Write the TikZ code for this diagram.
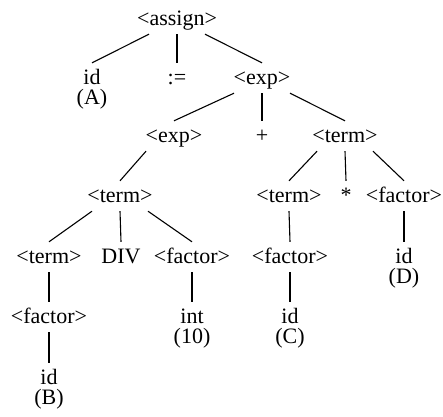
\documentclass[tikz,border=0pt]{standalone}
\usepackage{fontspec}
\setmainfont{Liberation Serif}
\begin{document}
\begin{tikzpicture}[x=1pt,y=-1pt,
    nt/.style={inner xsep=0pt,inner ysep=4pt,text height=17pt,text depth=5pt,anchor=base,font=\fontsize{22}{24}\selectfont},
    lbl/.style={inner sep=0pt,text height=14pt,text depth=5pt,font=\fontsize{22}{24}\selectfont},
    ramo/.style={line width=1.1pt}]
    \useasboundingbox (0,0) rectangle (443,416);

    %radice
    \node (assign) at (177,25)[nt]{<assign>};
    %livello 1
    \node (idA) at (92,84)[nt,label={[lbl,label distance=-3pt]below:(A)}]{id};
    \node (assegna) at (177,84)[nt]{:=};
    \node (exp1) at (262,84)[nt]{<exp>};
    %livello 2
    \node (exp2) at (174,142)[nt]{<exp>};
    \node (piu) at (262,142)[nt]{+};
    \node (term1) at (345,142)[nt]{<term>};
    %livello 3
    \node (term2) at (120,202)[nt]{<term>};
    \node (term3) at (289,202)[nt]{<term>};
    \node (per) at (346,202)[nt]{*};
    \node (factor1) at (404,202)[nt]{<factor>};
    %livello 4
    \node (term4) at (49,263)[nt]{<term>};
    \node (div) at (121,263)[nt]{DIV};
    \node (factor2) at (192,263)[nt]{<factor>};
    \node (factor3) at (290,263)[nt]{<factor>};
    \node (idD) at (404,263)[nt,label={[lbl,label distance=-3pt]below:(D)}]{id};
    %livello 5
    \node (factor4) at (49,323)[nt]{<factor>};
    \node (int) at (192,323)[nt,label={[lbl,label distance=-3pt]below:(10)}]{int};
    \node (idC) at (290,323)[nt,label={[lbl,label distance=-3pt]below:(C)}]{id};
    %livello 6
    \node (idB) at (49,384)[nt,label={[lbl,label distance=-3pt]below:(B)}]{id};

    %rami
    \draw[ramo] ([xshift=-28pt]assign.south) -- (idA.north);
    \draw[ramo] (assign.south) -- (assegna.north);
    \draw[ramo] ([xshift=28pt]assign.south) -- (exp1.north);
    \draw[ramo] ([xshift=-28pt]exp1.south) -- (exp2.north);
    \draw[ramo] (exp1.south) -- (piu.north);
    \draw[ramo] ([xshift=28pt]exp1.south) -- (term1.north);
    \draw[ramo] ([xshift=-28pt]exp2.south) -- (term2.north);
    \draw[ramo] ([xshift=-28pt]term1.south) -- (term3.north);
    \draw[ramo] (term1.south) -- (per.north);
    \draw[ramo] ([xshift=28pt]term1.south) -- (factor1.north);
    \draw[ramo] ([xshift=-28pt]term2.south) -- (term4.north);
    \draw[ramo] (term2.south) -- (div.north);
    \draw[ramo] ([xshift=28pt]term2.south) -- (factor2.north);
    \draw[ramo] (term3.south) -- (factor3.north);
    \draw[ramo] (factor1.south) -- (idD.north);
    \draw[ramo] (term4.south) -- (factor4.north);
    \draw[ramo] (factor2.south) -- (int.north);
    \draw[ramo] (factor3.south) -- (idC.north);
    \draw[ramo] (factor4.south) -- (idB.north);

\end{tikzpicture}
\end{document}
